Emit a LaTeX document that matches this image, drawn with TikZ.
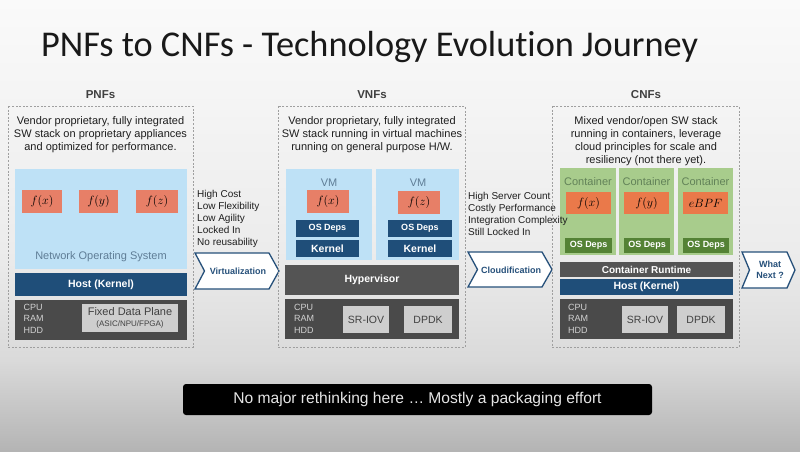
\documentclass[tikz,border=0pt]{standalone}
\usepackage{fontspec}
\setmainfont{Liberation Sans}
\newfontfamily\titlefont[Ligatures=NoCommon]{Carlito}
\definecolor{lblue}{RGB}{190,225,246}
\definecolor{salmon}{RGB}{231,127,103}
\definecolor{orng}{RGB}{234,121,74}
\definecolor{dblue}{RGB}{31,78,121}
\definecolor{hyper}{RGB}{84,84,84}
\definecolor{hwgray}{RGB}{74,74,74}
\definecolor{lgray}{RGB}{206,206,206}
\definecolor{lgreen}{RGB}{168,204,140}
\definecolor{dgreen}{RGB}{84,130,53}
\definecolor{nostext}{RGB}{95,125,150}
\definecolor{cntext}{RGB}{98,130,88}
\definecolor{chevblue}{RGB}{38,80,122}
\definecolor{bgA}{RGB}{250,250,250}
\definecolor{bgB}{RGB}{236,236,236}
\definecolor{bgC}{RGB}{218,218,218}
\definecolor{bgD}{RGB}{180,180,180}
\definecolor{hwtext}{RGB}{210,210,210}
\definecolor{bodytext}{RGB}{30,30,30}
\tikzset{
  blk/.style={anchor=north west, inner sep=0pt, outer sep=0pt, draw=none},
  sz/.style 2 args={minimum width=#1, minimum height=#2},
  panel/.style={draw=gray!75, line width=0.7pt, dash pattern=on 2pt off 1.6pt},
  plabel/.style={font=\bfseries\fontsize{11.5}{13}\selectfont, text=black!75},
  desc/.style={align=center, font=\fontsize{11}{13}\selectfont, text=bodytext},
  side/.style={anchor=west, align=left, font=\fontsize{10}{12}\selectfont, text=bodytext, inner sep=0pt},
  fbox/.style={blk, fill=salmon, font=\fontsize{13}{15}\selectfont},
  obox/.style={blk, fill=orng, font=\fontsize{13}{15}\selectfont},
  hostbox/.style={blk, fill=dblue, text=white, font=\bfseries\fontsize{10.5}{12}\selectfont},
  depbox/.style={blk, fill=dblue, text=white, font=\bfseries\fontsize{9}{11}\selectfont},
  gdepbox/.style={blk, fill=dgreen, text=white, font=\bfseries\fontsize{9}{11}\selectfont},
  graybar/.style={blk, fill=hyper, text=white, font=\bfseries\fontsize{10.5}{12}\selectfont},
  hwbox/.style={blk, fill=hwgray},
  hwlist/.style={anchor=west, align=left, inner sep=0pt, text=hwtext, font=\fontsize{9}{11.5}\selectfont},
  chipbox/.style={blk, fill=lgray, text=black!75, font=\fontsize{10.5}{12}\selectfont},
  chevtext/.style={text=chevblue, align=center, font=\bfseries\fontsize{9}{11}\selectfont},
  chevline/.style={draw=chevblue, line width=1.3pt, fill=white, line join=miter},
  vmlabel/.style={text=nostext, font=\fontsize{11}{13}\selectfont},
  cnlabel/.style={text=cntext, font=\fontsize{11}{13}\selectfont},
}
\begin{document}
\begin{tikzpicture}[x=1pt,y=-1pt]
\useasboundingbox (0,0) rectangle (800,451);
% background
\shade[top color=bgA, bottom color=bgB] (0,0) rectangle (800,250);
\shade[top color=bgB, bottom color=bgC] (0,250) rectangle (800,360);
\shade[top color=bgC, bottom color=bgD] (0,360) rectangle (800,451);

% title
\node[anchor=base west, inner sep=0pt, font=\titlefont\fontsize{36.3}{40}\selectfont, text=black!90] (title) at (41,56) {PNFs to CNFs - Technology Evolution Journey};

% ================= PNFs =================
\node[plabel] (pnflab) at (100.5,95) {PNFs};
\draw[panel] (8,106) rectangle (193,347);
\node[desc] (pnfdesc) at (100.5,135) {Vendor proprietary, fully integrated\\SW stack on proprietary appliances\\and optimized for performance.};
\node[blk, fill=lblue, sz={172}{100}] (nos) at (15,169) {};
\node[fbox, sz={40}{23}] (pfx) at (22,190) {$f(x)$};
\node[fbox, sz={39}{23}] (pfy) at (79,190) {$f(y)$};
\node[fbox, sz={42}{23}] (pfz) at (136,190) {$f(z)$};
\node[vmlabel] (nostxt) at (101,257) {Network Operating System};
\node[hostbox, sz={172}{23}] (phost) at (15,273) {Host (Kernel)};
\node[hwbox, sz={172}{40}] (phw) at (15,300) {};
\node[hwlist] (phwl) at (23.5,318.5) {CPU\\RAM\\HDD};
\node[blk, fill=lgray, sz={96}{28}, align=center, text=black!75] (fdp) at (82,304) {{\fontsize{11}{12}\selectfont Fixed Data Plane}\\[-1pt]{\fontsize{8}{9}\selectfont (ASIC/NPU/FPGA)}};
\node[side] (pside) at (197,219) {High Cost\\Low Flexibility\\Low Agility\\Locked In\\No reusability};
% Virtualization chevron
\draw[chevline] (195,253) -- (269,253) -- (279,271) -- (269,289) -- (195,289) -- (204.5,271) -- cycle;
\node[chevtext] (virt) at (238,271.5) {Virtualization};

% ================= VNFs =================
\node[plabel] (vnflab) at (372,95) {VNFs};
\draw[panel] (278,106) rectangle (465,347);
\node[desc] (vnfdesc) at (372,135) {Vendor proprietary, fully integrated\\SW stack running in virtual machines\\running on general purpose H/W.};
\node[blk, fill=lblue, sz={86}{91}] (vm1) at (286,169) {};
\node[blk, fill=lblue, sz={83}{91}] (vm2) at (376,169) {};
\node[vmlabel] (vm1l) at (329,183) {VM};
\node[vmlabel] (vm2l) at (418,183) {VM};
\node[fbox, sz={42}{23}] (vfx) at (307,190) {$f(x)$};
\node[fbox, sz={42}{23}] (vfz) at (398,191) {$f(z)$};
\node[depbox, sz={63}{17}] (vdep1) at (296,220) {OS Deps};
\node[depbox, sz={64}{17}] (vdep2) at (388,220) {OS Deps};
\node[hostbox, sz={63}{17}] (vk1) at (296,240) {Kernel};
\node[hostbox, sz={64}{17}] (vk2) at (388,240) {Kernel};
\node[graybar, sz={174}{30}] (hyp) at (285,265) {Hypervisor};
\node[hwbox, sz={174}{40}] (vhw) at (285,299) {};
\node[hwlist] (vhwl) at (294,318.5) {CPU\\RAM\\HDD};
\node[chipbox, sz={46}{27}] (vsr) at (343,306) {SR-IOV};
\node[chipbox, sz={48}{27}] (vdp) at (404,306) {DPDK};
% Cloudification chevron
\draw[chevline] (468,252) -- (542,252) -- (552,269.5) -- (542,287) -- (468,287) -- (477.5,269.5) -- cycle;
\node[chevtext] (cloud) at (511,270) {Cloudification};

% ================= CNFs =================
\node[plabel] (cnflab) at (646,95) {CNFs};
\draw[panel] (552,106) rectangle (739,347);
\node[desc] (cnfdesc) at (646,141.5) {Mixed vendor/open SW stack\\running in containers, leverage\\cloud principles for scale and\\resiliency (not there yet).};
\node[blk, fill=lgreen, sz={56}{87}] (c1) at (560,168) {};
\node[blk, fill=lgreen, sz={55}{87}] (c2) at (619,168) {};
\node[blk, fill=lgreen, sz={55}{87}] (c3) at (678,168) {};
\node[cnlabel] (c1l) at (588,182) {Container};
\node[cnlabel] (c2l) at (646.5,182) {Container};
\node[cnlabel] (c3l) at (705.5,182) {Container};
\node[obox, sz={45}{22}] (cfx) at (566,192) {$f(x)$};
\node[obox, sz={45}{22}] (cfy) at (624,192) {$f(y)$};
\node[obox, sz={45}{22}] (cfe) at (683,192) {$eBPF$};
\node[gdepbox, sz={47}{15}] (cd1) at (565,238) {OS Deps};
\node[gdepbox, sz={46}{15}] (cd2) at (624,238) {OS Deps};
\node[gdepbox, sz={46}{15}] (cd3) at (683,238) {OS Deps};
\node[graybar, sz={173}{15}, font=\bfseries\fontsize{10}{12}\selectfont] (crt) at (560,262) {Container Runtime};
\node[hostbox, sz={173}{16}] (chost) at (560,279) {Host (Kernel)};
\node[hwbox, sz={173}{40}] (chw) at (560,299) {};
\node[hwlist] (chwl) at (568,318.5) {CPU\\RAM\\HDD};
\node[chipbox, sz={46}{27}] (csr) at (622,306) {SR-IOV};
\node[chipbox, sz={48}{27}] (cdp) at (677,306) {DPDK};
% What Next chevron
\draw[chevline] (742,252) -- (787,252) -- (795,270) -- (787,288) -- (742,288) -- (749.5,270) -- cycle;
\node[chevtext] (next) at (770,270) {What\\Next ?};

% VNF side text drawn on top of the CNF column
\node[side] (vside) at (468,214) {High Server Count\\Costly Performance\\Integration Complexity\\Still Locked In};

% ================= banner =================
\node[blk, fill=black, rounded corners=3pt, sz={469}{31}] (banner) at (183,384) {};
\node[text=white!90!black, font=\fontsize{15.6}{18}\selectfont] (bannertxt) at (417.5,399.5) {No major rethinking here … Mostly a packaging effort};
\end{tikzpicture}
\end{document}
